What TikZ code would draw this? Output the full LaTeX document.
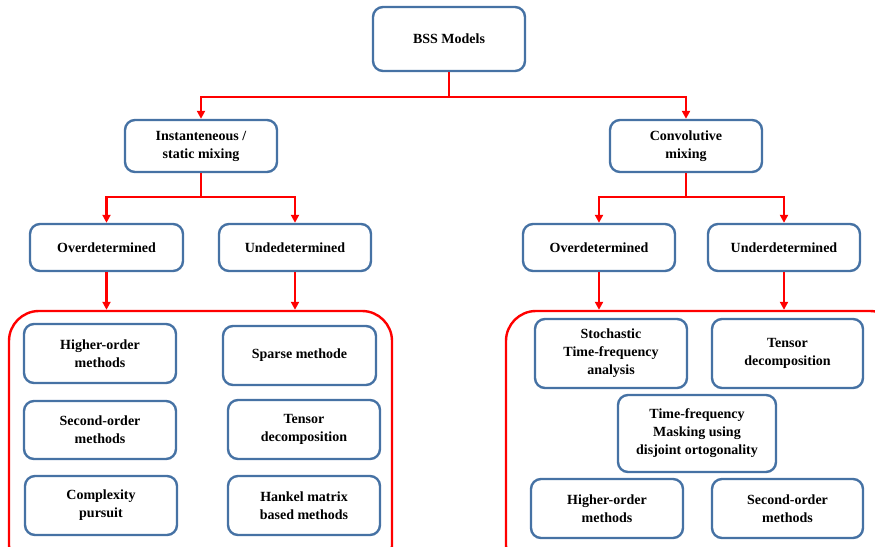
\documentclass[tikz,border=0pt]{standalone}
\usepackage{fontspec}
\setmainfont{Liberation Serif}
\usetikzlibrary{arrows.meta}
\definecolor{boxblue}{RGB}{70,114,164}
\definecolor{linkred}{RGB}{255,0,0}
\begin{document}
\begin{tikzpicture}[x=1pt,y=-1pt,
  box/.style={draw=boxblue, line width=2.4pt, rounded corners=10pt, fill=white,
    align=center, inner sep=2pt,
    font=\fontsize{14}{18}\selectfont\bfseries},
  group/.style={draw=linkred, line width=2.4pt, rounded corners=30pt},
  link/.style={draw=linkred, line width=2.4pt,
    -{Triangle[length=8pt,width=8pt]}}
]
\useasboundingbox (0,0) rectangle (875,546);
\clip (0,0) rectangle (875,546);

% groups of methods
\node[group, minimum width=383pt, minimum height=264pt] (lgrp) at (200.5,443) {};
\node[group, minimum width=394pt, minimum height=264pt] (rgrp) at (703,443) {};

% hierarchy
\node[box, minimum width=152pt, minimum height=64pt] (bss) at (449,39) {BSS Models};
\node[box, minimum width=152pt, minimum height=52pt] (inst) at (201,146) {Instanteneous /\\static mixing};
\node[box, minimum width=152pt, minimum height=52pt] (conv) at (686,146) {Convolutive\\mixing};

\node[box, minimum width=153pt, minimum height=47pt] (lod) at (106.5,247.5) {Overdetermined};
\node[box, minimum width=152pt, minimum height=47pt] (lud) at (295,247.5) {Undedetermined};
\node[box, minimum width=152pt, minimum height=47pt] (rod) at (599,247.5) {Overdetermined};
\node[box, minimum width=152pt, minimum height=47pt] (rud) at (784,247.5) {Underdetermined};

% instantaneous methods
\node[box, minimum width=152pt, minimum height=59pt] (lho) at (100,353.5) {Higher-order\\methods};
\node[box, minimum width=153pt, minimum height=59pt] (lsp) at (299.5,355.5) {Sparse methode};
\node[box, minimum width=152pt, minimum height=58pt] (lso) at (100,430) {Second-order\\methods};
\node[box, minimum width=152pt, minimum height=59pt] (lte) at (304,429.5) {Tensor\\decomposition};
\node[box, minimum width=152pt, minimum height=59pt] (lcp) at (101,505.5) {Complexity\\pursuit};
\node[box, minimum width=152pt, minimum height=59pt] (lhk) at (304,505.5) {Hankel matrix\\based methods};

% convolutive methods
\node[box, minimum width=152pt, minimum height=69pt] (rst) at (611,353.5) {Stochastic\\Time-frequency\\analysis};
\node[box, minimum width=151pt, minimum height=69pt] (rte) at (787.5,353.5) {Tensor\\decomposition};
\node[box, minimum width=158pt, minimum height=77pt] (rtf) at (697,433.5) {Time-frequency\\Masking using\\disjoint ortogonality};
\node[box, minimum width=152pt, minimum height=59pt] (rho) at (607,508.5) {Higher-order\\methods};
\node[box, minimum width=151pt, minimum height=59pt] (rso) at (787.5,508.5) {Second-order\\methods};

% connectors
\draw[link] (bss.south) -- ++(0,25) -| (inst.north);
\draw[link] (bss.south) -- ++(0,25) -| (conv.north);
\draw[link] (inst.south) -- ++(0,24) -| (lod.north);
\draw[link] (inst.south) -- ++(0,24) -| (lud.north);
\draw[link] (conv.south) -- ++(0,24) -| (rod.north);
\draw[link] (conv.south) -- ++(0,24) -| (rud.north);
\draw[link] (lod.south) -- (lod.south |- lgrp.north);
\draw[link] (lud.south) -- (lud.south |- lgrp.north);
\draw[link] (rod.south) -- (rod.south |- rgrp.north);
\draw[link] (rud.south) -- (rud.south |- rgrp.north);
\end{tikzpicture}
\end{document}
